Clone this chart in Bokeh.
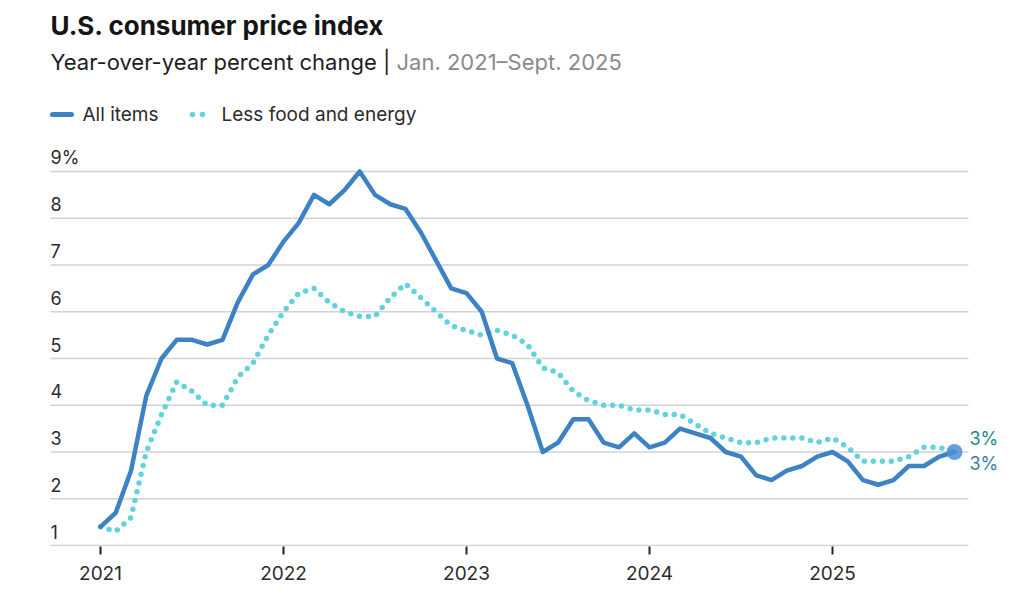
from bokeh.plotting import figure
from bokeh.models import Range1d, FixedTicker, ColumnDataSource
from bokeh.core.properties import value
from bokeh.embed import file_html
from bokeh.resources import INLINE

# ---------------- data ----------------
START_YEAR = 2021  # first month: Jan. 2021, monthly through Sept. 2025
ALL_ITEMS = [
    1.4, 1.7, 2.6, 4.2, 5.0, 5.4, 5.4, 5.3, 5.4, 6.2, 6.8, 7.0,   # 2021
    7.5, 7.9, 8.5, 8.3, 8.6, 9.0, 8.5, 8.3, 8.2, 7.7, 7.1, 6.5,   # 2022
    6.4, 6.0, 5.0, 4.9, 4.0, 3.0, 3.2, 3.7, 3.7, 3.2, 3.1, 3.4,   # 2023
    3.1, 3.2, 3.5, 3.4, 3.3, 3.0, 2.9, 2.5, 2.4, 2.6, 2.7, 2.9,   # 2024
    3.0, 2.8, 2.4, 2.3, 2.4, 2.7, 2.7, 2.9, 3.0,                  # 2025
]
CORE = [
    1.4, 1.3, 1.6, 3.0, 3.8, 4.5, 4.3, 4.0, 4.0, 4.6, 4.9, 5.5,   # 2021
    6.0, 6.4, 6.5, 6.2, 6.0, 5.9, 5.9, 6.3, 6.6, 6.3, 6.0, 5.7,   # 2022
    5.6, 5.5, 5.6, 5.5, 5.3, 4.8, 4.7, 4.3, 4.1, 4.0, 4.0, 3.9,   # 2023
    3.9, 3.8, 3.8, 3.6, 3.4, 3.3, 3.2, 3.2, 3.3, 3.3, 3.3, 3.2,   # 2024
    3.3, 3.1, 2.8, 2.8, 2.8, 2.9, 3.1, 3.1, 3.0,                  # 2025
]
YEAR_TICKS = [2021, 2022, 2023, 2024, 2025]
YEAR_LABELS = ["2021", "2022", "2023", "2024", "2025"]
Y_TICKS = [1, 2, 3, 4, 5, 6, 7, 8, 9]
Y_LABELS = ["1", "2", "3", "4", "5", "6", "7", "8", "9%"]
TITLE = "U.S. consumer price index"
SUBTITLE_MAIN = "Year-over-year percent change |"
SUBTITLE_RANGE = "Jan. 2021\u2013Sept. 2025"
SERIES_NAMES = ["All items", "Less food and energy"]

# ---------------- styles ----------------
FONT = "Inter"
BLUE = "#3d82c4"
CYAN = "#62d3de"
TEAL_LABEL = "#23888c"
BLUE_LABEL = "#3a7cae"
GRID = "#d2d2d2"
TEXT = "#2b2b2b"

W, H = 1002, 594
FRAME_H = 546
PX_PER_YEAR = 183.0
PX_PER_UNIT = 46.75
X0 = 2021 - 100 / PX_PER_YEAR
X1 = X0 + W / PX_PER_YEAR
Y0 = 1 - 1 / PX_PER_UNIT
Y1 = Y0 + FRAME_H / PX_PER_UNIT


def px_x(px):  # canvas pixel -> data x
    return X0 + px / PX_PER_YEAR


def px_y(py):  # canvas pixel -> data y
    return Y1 - py / PX_PER_UNIT


months = [START_YEAR + i / 12 for i in range(len(ALL_ITEMS))]

p = figure(width=W, height=H, output_backend="svg", toolbar_location=None,
           x_range=Range1d(X0, X1), y_range=Range1d(Y0, Y1),
           min_border_left=0, min_border_right=0, min_border_top=0,
           min_border_bottom=H - FRAME_H)
p.outline_line_color = None
p.background_fill_color = "white"
p.border_fill_color = "white"
p.xgrid.visible = False
p.ygrid.visible = False
p.yaxis.visible = False

ax = p.xaxis[0]
ax.ticker = FixedTicker(ticks=YEAR_TICKS)
ax.major_label_overrides = {t: l for t, l in zip(YEAR_TICKS, YEAR_LABELS)}
ax.axis_line_color = None
ax.major_tick_in = 0
ax.major_tick_out = 8
ax.major_tick_line_color = "#222222"
ax.major_tick_line_width = 2
ax.minor_tick_line_color = None
ax.major_label_text_font = FONT
ax.major_label_text_font_size = "19px"
ax.major_label_text_color = TEXT
ax.major_label_standoff = 11

# gridlines
gx0, gx1 = px_x(50), px_x(968)
p.segment(x0=[gx0] * len(Y_TICKS), x1=[gx1] * len(Y_TICKS), y0=Y_TICKS, y1=Y_TICKS,
          line_color=GRID, line_width=1.4)
p.text(x=[gx0] * len(Y_TICKS), y=Y_TICKS, text=Y_LABELS, y_offset=-14,
       text_align="left", text_baseline="middle", text_font=value(FONT),
       text_font_size="18px", text_color=TEXT)

# series
p.line(months, CORE, line_color=CYAN, line_width=5.5, line_dash="0 9",
       line_cap="round", line_join="round")
p.line(months, ALL_ITEMS, line_color=BLUE, line_width=4.5,
       line_cap="round", line_join="round")
p.scatter([months[-1]], [ALL_ITEMS[-1]], size=16, fill_color="#4b90d2",
          fill_alpha=0.85, line_color=None)

end_src = ColumnDataSource(dict(
    x=[months[-1], months[-1]],
    y=[ALL_ITEMS[-1], ALL_ITEMS[-1]],
    text=[f"{round(CORE[-1])}%", f"{round(ALL_ITEMS[-1])}%"],
    dy=[-14, 11],
    color=[TEAL_LABEL, BLUE_LABEL],
))
p.text(x="x", y="y", text="text", y_offset="dy", x_offset=15, source=end_src,
       text_align="left", text_baseline="middle", text_font=value(FONT),
       text_font_size="18px", text_color="color")

# headline
p.text(x=[px_x(50)], y=[px_y(25)], text=[TITLE], text_align="left",
       text_baseline="middle", text_font=value(FONT), text_font_style="bold",
       text_font_size="26px", text_color="#151515")
p.text(x=[px_x(50)], y=[px_y(61)], text=[SUBTITLE_MAIN], text_align="left",
       text_baseline="middle", text_font=value(FONT),
       text_font_size="22px", text_color="#1e1e1e")
p.text(x=[px_x(396)], y=[px_y(61)], text=[SUBTITLE_RANGE], text_align="left",
       text_baseline="middle", text_font=value(FONT),
       text_font_size="22px", text_color="#8a8a8a")

# legend
p.line([px_x(52), px_x(71)], [px_y(114), px_y(114)], line_color=BLUE,
       line_width=5, line_cap="round")
p.scatter([px_x(192), px_x(202)], [px_y(114), px_y(114)], size=5.5,
          fill_color=CYAN, line_color=None)
p.text(x=[px_x(82), px_x(221)], y=[px_y(114), px_y(114)], text=SERIES_NAMES,
       text_align="left", text_baseline="middle", text_font=value(FONT),
       text_font_size="19px", text_color=TEXT)

open("out.html", "w").write(file_html(p, INLINE))
